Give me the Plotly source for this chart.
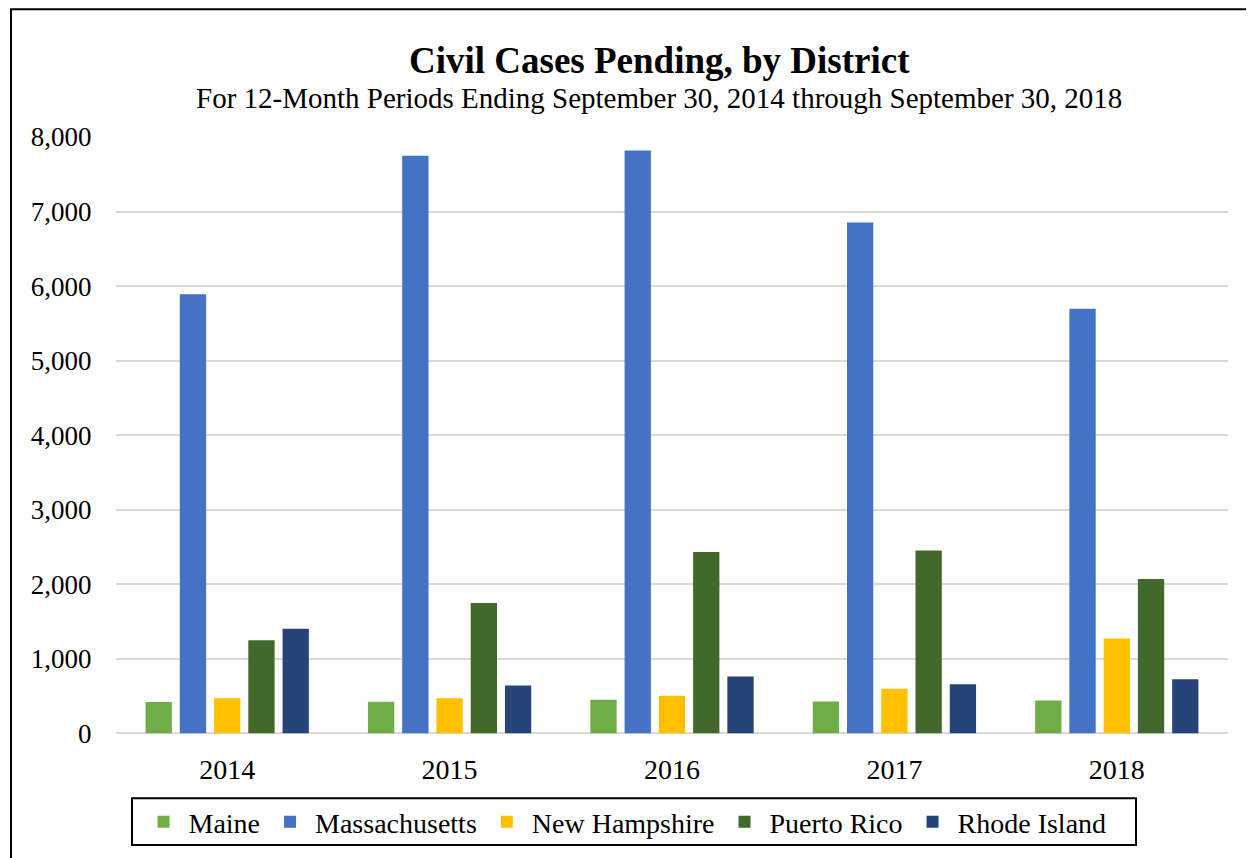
import plotly.graph_objects as go

years = ["2014", "2015", "2016", "2017", "2018"]
maine = [420, 424, 450, 429, 441]
massachusetts = [5890, 7750, 7818, 6853, 5695]
new_hampshire = [473, 470, 506, 599, 1274]
puerto_rico = [1249, 1748, 2434, 2452, 2072]
rhode_island = [1404, 644, 762, 659, 726]

series = [
    ("Maine", maine, "#70AD47"),
    ("Massachusetts", massachusetts, "#4472C4"),
    ("New Hampshire", new_hampshire, "#FFC000"),
    ("Puerto Rico", puerto_rico, "#43682B"),
    ("Rhode Island", rhode_island, "#264478"),
]

OFF = 8  # page body margin
W, H = 1254 - OFF, 858 - OFF
L, R, T, B = 116 - OFF, 1228 - OFF, 137 - OFF, 735 - OFF
FONT = "Liberation Serif, Times New Roman, serif"

fig = go.Figure()
for name, vals, col in series:
    fig.add_trace(go.Bar(x=years, y=vals, name=name, marker=dict(color=col, line=dict(width=0))))

def px(x):
    return (x - OFF - L) / (R - L)

def py(y):
    return (B - (y - OFF)) / (B - T)

fig.update_layout(
    width=W, height=H,
    margin=dict(l=L, r=W - R, t=T, b=H - B, pad=0),
    paper_bgcolor="white", plot_bgcolor="white",
    barmode="group", bargap=0.23, bargroupgap=0.232,
    font=dict(family=FONT, color="black", size=28),
    showlegend=True,
    legend=dict(orientation="h", xref="container", yref="container",
                x=(625 - OFF) / W, xanchor="center", y=1 - (822 - OFF) / H, yanchor="middle",
                borderwidth=0, bgcolor="rgba(0,0,0,0)", itemwidth=40,
                font=dict(size=28, family=FONT), traceorder="normal"),
    annotations=[
        dict(text="<b>Civil Cases Pending, by District</b>", xref="paper", yref="paper",
             x=px(659), y=py(60), xanchor="center", yanchor="middle", showarrow=False,
             font=dict(size=37, family=FONT)),
        dict(text="For 12-Month Periods Ending September 30, 2014 through September 30, 2018",
             xref="paper", yref="paper", x=px(659), y=py(98), xanchor="center", yanchor="middle",
             showarrow=False, font=dict(size=29, family=FONT)),
    ],
    shapes=[
        dict(type="rect", xref="paper", yref="paper", x0=px(11), x1=px(1270), y0=py(880), y1=py(9),
             line=dict(color="black", width=2), fillcolor="rgba(0,0,0,0)", layer="below"),
        dict(type="rect", xref="paper", yref="paper", x0=px(132), x1=px(1136), y0=py(847), y1=py(800),
             line=dict(color="black", width=2), fillcolor="rgba(0,0,0,0)", layer="below"),
    ],
)
fig.update_yaxes(range=[0, 8000], tickvals=[0, 1000, 2000, 3000, 4000, 5000, 6000, 7000, 8000],
                 tickformat=",d", showgrid=True, gridcolor="#D9D9D9", gridwidth=2,
                 zeroline=True, zerolinecolor="#D9D9D9", zerolinewidth=2,
                 ticks="outside", ticklen=18, tickcolor="rgba(0,0,0,0)",
                 tickfont=dict(size=27, family=FONT), showline=False)
fig.update_xaxes(ticks="outside", ticklen=11, tickcolor="rgba(0,0,0,0)",
                 tickfont=dict(size=28, family=FONT), showline=False)

fig.write_html("out.html")
